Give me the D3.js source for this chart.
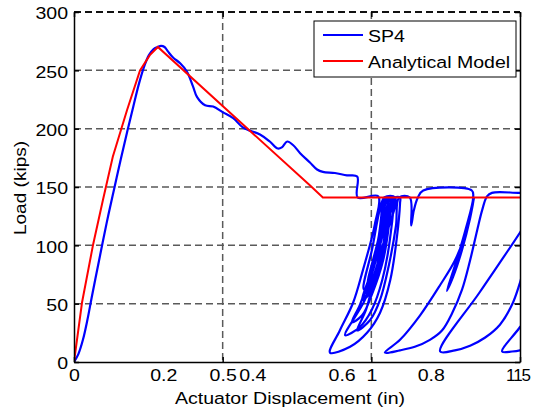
<!DOCTYPE html>
<html lang="en">
<head>
<meta charset="UTF-8">
<title>SP4 load vs displacement</title>
<script src="https://d3js.org/d3.v7.min.js"></script>
<style>
    body, html { margin: 0; background: #fff; }
    text { font-family: "Liberation Sans", Arial, Helvetica, sans-serif; font-size: 17px; fill: #000; }
    .grid line { stroke: #5a5a5a; stroke-width: 1.5px; stroke-dasharray: 7,4; }
    .axis path, .axis line { stroke: #000; stroke-width: 1.5px; }
</style>
</head>
<body>
<script>
// load axis ticks (kips)
const loadTicks = [0, 50, 100, 150, 200, 250, 300];
// the two overlapping displacement axes as they appear in the figure
const mainTicks = [0, 0.5, 1, 1.5];
const mainLabels = ["0", "0.5", "1", "115"];
const dispTicks = [0.2, 0.4, 0.6, 0.8];

// analytical model [displacement (in), load (kips)]
const analytical = [
    [0, 0], [0.018, 51], [0.043, 101], [0.065, 139], [0.087, 176], [0.119, 216],
    [0.148, 250], [0.170, 263], [0.188, 270], [0.530, 151], [0.558, 141], [1.0, 141]
];

// SP4 test record [displacement (in), load (kips)]
const sp4 = [
    // monotonic push to peak and softening
    [0, 0], [0.010, 7], [0.020, 19], [0.030, 36], [0.040, 56], [0.052, 79], [0.064, 102],
    [0.077, 126], [0.091, 150], [0.105, 174], [0.119, 197], [0.133, 219], [0.146, 239],
    [0.158, 254], [0.168, 263], [0.178, 268], [0.188, 270], [0.195, 271], [0.203, 270],
    [0.211, 266], [0.222, 261], [0.238, 256], [0.253, 249], [0.267, 236], [0.276, 227],
    [0.294, 220], [0.312, 219], [0.334, 214], [0.357, 209], [0.379, 201], [0.417, 195],
    [0.439, 189], [0.457, 183], [0.466, 184], [0.478, 189], [0.491, 186], [0.507, 179],
    [0.529, 171], [0.545, 165], [0.558, 163], [0.585, 162], [0.612, 160], [0.635, 159],
    [0.636, 141], [0.682, 142],
    // first group of cycles
    [0.675, 119], [0.668, 107], [0.648, 79], [0.626, 51], [0.596, 27], [0.574, 8],
    [0.619, 13], [0.657, 25], [0.686, 42], [0.709, 70], [0.724, 107], [0.731, 136], [0.731, 141],
    [0.720, 141], [0.704, 117], [0.682, 86], [0.652, 53], [0.608, 23],
    [0.641, 30], [0.668, 45], [0.691, 70], [0.709, 107], [0.715, 141],
    [0.709, 141], [0.691, 113], [0.668, 79], [0.641, 49], [0.623, 34],
    [0.646, 40], [0.670, 60], [0.693, 87], [0.706, 117], [0.711, 141],
    [0.713, 141], [0.693, 110], [0.673, 82], [0.657, 62], [0.648, 55],
    [0.664, 60], [0.684, 80], [0.700, 110], [0.713, 141],
    [0.704, 141], [0.686, 109], [0.664, 75], [0.646, 53],
    [0.659, 57], [0.682, 79], [0.700, 109], [0.706, 141],
    [0.711, 141], [0.695, 118], [0.677, 90], [0.661, 68],
    [0.670, 70], [0.688, 92], [0.704, 120], [0.716, 141],
    [0.700, 141], [0.682, 105], [0.659, 66], [0.675, 72], [0.693, 100], [0.702, 141],
    [0.695, 141], [0.668, 96], [0.650, 62], [0.666, 66], [0.686, 96], [0.697, 141],
    [0.720, 141], [0.697, 105], [0.675, 75], [0.655, 45], [0.635, 27],
    [0.664, 36], [0.686, 53], [0.706, 83], [0.722, 117], [0.729, 141],
    // plateau with notch
    [0.753, 141], [0.756, 117], [0.762, 130], [0.771, 141], [0.783, 147], [0.892, 147], [0.895, 141],
    // narrow cycle
    [0.879, 115], [0.857, 86], [0.836, 61], [0.850, 73], [0.870, 96], [0.888, 123], [0.897, 141],
    // second cycle
    [0.881, 113], [0.854, 87], [0.821, 66], [0.776, 40], [0.731, 19], [0.697, 8],
    [0.731, 10], [0.764, 13], [0.798, 19], [0.825, 27], [0.848, 42], [0.870, 62], [0.888, 87],
    [0.904, 113], [0.915, 130], [0.926, 142], [0.937, 145], [0.996, 145], [1.022, 145],
    // third cycle
    [1.045, 139], [1.0, 111], [0.910, 60], [0.821, 9],
    [0.854, 10], [0.888, 14], [0.922, 21], [0.955, 32], [0.982, 49], [1.0, 68], [1.022, 96],
    // fourth cycle
    [1.056, 62], [1.0, 30], [0.960, 9], [0.982, 9], [1.0, 10], [1.034, 15]
];

const width = 534, height = 410;
const margin = {top: 12, right: 14, bottom: 48, left: 74};
const iw = width - margin.left - margin.right;
const ih = height - margin.top - margin.bottom;
const stretch = "scale(1.15,1)";

const x = d3.scaleLinear().domain([0, 1]).range([0, iw]);
const xMain = d3.scaleLinear().domain([0, 1.5]).range([0, iw]);
const y = d3.scaleLinear().domain([0, 300]).range([ih, 0]);

const svg = d3.select("body").append("svg")
    .attr("width", width)
    .attr("height", height);

const g = svg.append("g")
    .attr("transform", `translate(${margin.left},${margin.top})`);

svg.append("defs").append("clipPath").attr("id", "plot-clip")
    .append("rect").attr("width", iw).attr("height", ih);

// grid
const grid = g.append("g").attr("class", "grid");
grid.selectAll(".h").data(loadTicks.slice(1, -1)).join("line")
    .attr("x1", 0).attr("x2", iw)
    .attr("y1", d => y(d)).attr("y2", d => y(d));
grid.selectAll(".v").data(mainTicks.slice(1, -1)).join("line")
    .attr("class", "v")
    .attr("x1", d => xMain(d)).attr("x2", d => xMain(d))
    .attr("y1", 0).attr("y2", ih);

// data
const plot = g.append("g").attr("clip-path", "url(#plot-clip)");
plot.append("path").datum(sp4)
    .attr("d", d3.line().x(d => x(d[0])).y(d => y(d[1])).curve(d3.curveCatmullRom.alpha(0.5)))
    .attr("fill", "none")
    .attr("stroke", "#0000ff")
    .attr("stroke-width", 2.2)
    .attr("stroke-linejoin", "round");
plot.append("path").datum(analytical)
    .attr("d", d3.line().x(d => x(d[0])).y(d => y(d[1])))
    .attr("fill", "none")
    .attr("stroke", "#ff0000")
    .attr("stroke-width", 2);

// top edge shows as a dashed line
g.append("line")
    .attr("x1", 0).attr("x2", iw)
    .attr("y1", y(300)).attr("y2", y(300))
    .attr("stroke", "#111").attr("stroke-width", 2)
    .attr("stroke-dasharray", "7,4");

// axes
const yAxis = g.append("g").attr("class", "axis")
    .call(d3.axisLeft(y).tickValues(loadTicks).tickSize(-5).tickSizeOuter(0).tickPadding(6));
yAxis.selectAll("text")
    .attr("x", -6 / 1.15)
    .attr("dy", "0.4em")
    .attr("transform", stretch);
yAxis.select(".domain").attr("stroke-width", 2);

g.append("g").attr("class", "axis")
    .attr("transform", `translate(${iw},0)`)
    .call(d3.axisRight(y).tickValues(loadTicks).tickSize(-5).tickSizeOuter(0).tickFormat(""));

const xAxis = g.append("g").attr("class", "axis")
    .attr("transform", `translate(0,${ih})`)
    .call(d3.axisBottom(xMain).tickValues(mainTicks).tickSize(-5).tickSizeOuter(0)
        .tickPadding(7).tickFormat((d, i) => mainLabels[i]));
xAxis.selectAll("text").attr("transform", stretch);
// the last label is squeezed where the two axes overlap
xAxis.selectAll(".tick").filter(d => d === 1.5).select("text")
    .attr("transform", null)
    .attr("x", -2)
    .attr("textLength", 25)
    .attr("lengthAdjust", "spacing");
xAxis.select(".domain").attr("stroke-width", 2);

const xAxis2 = g.append("g")
    .attr("transform", `translate(0,${ih})`)
    .call(d3.axisBottom(x).tickValues(dispTicks).tickSize(0)
        .tickPadding(7).tickFormat(d3.format(".1f")));
xAxis2.select(".domain").remove();
xAxis2.selectAll("text").attr("transform", stretch);

g.append("g").attr("class", "axis")
    .call(d3.axisTop(xMain).tickValues(mainTicks).tickSize(-5).tickSizeOuter(0).tickFormat(""))
    .select(".domain").remove();

// axis titles
svg.append("text")
    .attr("text-anchor", "middle")
    .attr("transform", `translate(290,404) ${stretch}`)
    .text("Actuator Displacement (in)");

svg.append("text")
    .attr("text-anchor", "middle")
    .attr("transform", `translate(26,188) rotate(-90) scale(1.12,1)`)
    .text("Load (kips)");

// legend
const legendItems = [
    {name: "SP4", color: "#0000ff"},
    {name: "Analytical Model", color: "#ff0000"}
];
const legend = svg.append("g").attr("transform", "translate(314,21)");
legend.append("rect")
    .attr("width", 202).attr("height", 56)
    .attr("fill", "#fff").attr("stroke", "#000").attr("stroke-width", 1);
const row = legend.selectAll(".row").data(legendItems).join("g")
    .attr("transform", (d, i) => `translate(0,${14 + i * 26})`);
row.append("line")
    .attr("x1", 9).attr("x2", 49)
    .attr("stroke", d => d.color).attr("stroke-width", 2);
row.append("text")
    .attr("transform", `translate(54,7) ${stretch}`)
    .text(d => d.name);
</script>
</body>
</html>
